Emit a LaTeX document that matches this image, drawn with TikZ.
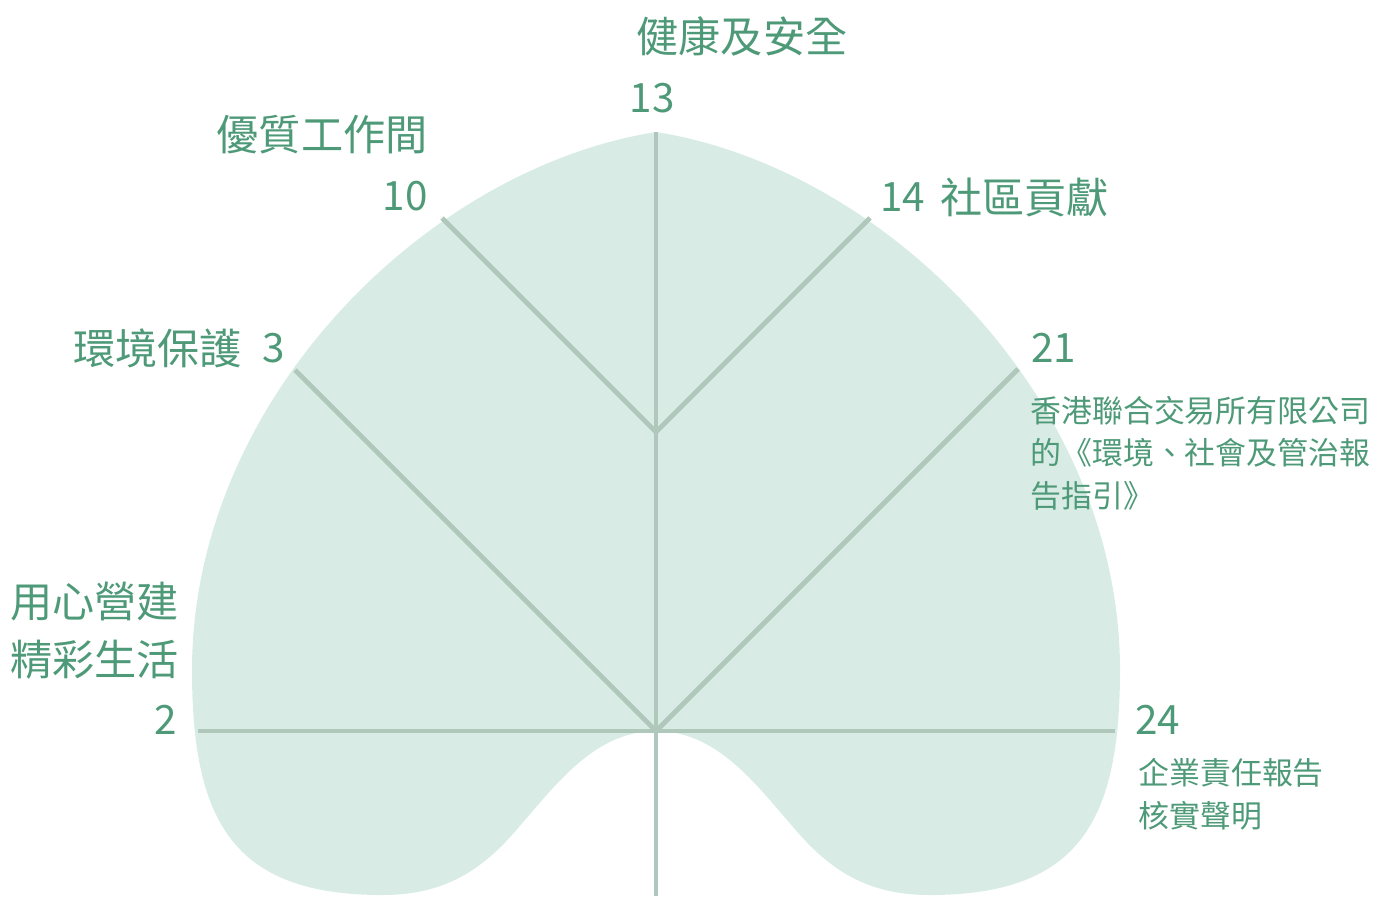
\documentclass[tikz,border=0pt]{standalone}
\usepackage{fontspec}
\setmainfont{Noto Sans CJK TC}
\usetikzlibrary{positioning}

\definecolor{leafgreen}{HTML}{D8ECE5}
\definecolor{veingray}{HTML}{B0C8BC}
\definecolor{labelgreen}{HTML}{4E9A78}

\tikzset{
  vein/.style={draw=veingray, line width=2.8pt},
  big label/.style={text=labelgreen, inner sep=0pt, align=left, font=\fontsize{24}{33}\selectfont},
  small label/.style={text=labelgreen, inner sep=0pt, align=left, font=\fontsize{17.6}{24.3}\selectfont},
  num label/.style={text=labelgreen, inner sep=0pt, font=\fontsize{23}{28}\selectfont}
}

\begin{document}
\begin{tikzpicture}[x=0.02cm, y=-0.02cm]
    \useasboundingbox (0,0) rectangle (1392,896);
    % leaf
    \fill[leafgreen] (656,132) .. controls (885,168) and (1120,400) .. (1120,670)
      .. controls (1120,820) and (1080,895) .. (930,895)
      .. controls (880,895) and (840,880) .. (800,835)
      .. controls (760,790) and (720,731) .. (656,731)
      .. controls (592,731) and (552,790) .. (512,835)
      .. controls (472,880) and (432,895) .. (382,895)
      .. controls (232,895) and (192,820) .. (192,670)
      .. controls (192,400) and (427,168) .. (656,132) -- cycle;
    % vein ends
    \coordinate (apex) at (656,132);
    \coordinate (stem) at (656,896);
    \coordinate (base) at (656,731);
    \coordinate (fork) at (656,432);
    \coordinate (side-l) at (198,731);
    \coordinate (side-r) at (1115,731);
    \coordinate (low-l) at (295,370);
    \coordinate (low-r) at (1018,369);
    \coordinate (up-l) at (442,218);
    \coordinate (up-r) at (870,218);
    \foreach \a/\b in {apex/stem, side-l/side-r, base/low-l, base/low-r, fork/up-l, fork/up-r}
      \draw[vein] (\a) -- (\b);
    % labels
    \node[big label] (health) at (742,36) {健康及安全};
    \node[num label] (n-health) at (652,98) {13};
    \node[big label, anchor=east] (work) at (428,135) {優質工作間};
    \node[num label, anchor=east] (n-work) at (428,196) {10};
    \node[big label, anchor=west] (env) at (73,348) {環境保護};
    \node[num label, anchor=west] (n-env) at (262,348) {3};
    \node[num label, anchor=west] (n-comm) at (880,197) {14};
    \node[big label, anchor=west] (comm) at (940,197) {社區貢獻};
    \node[num label, anchor=west] (n-hkex) at (1031,348) {21};
    \node[small label, anchor=west] (hkex) at (1030,453) {香港聯合交易所有限公司\\的《環境、社會及管治報\\告指引》};
    \node[big label, anchor=west] (life) at (10,631) {用心營建\\精彩生活};
    \node[num label, anchor=east] (n-life) at (177,720) {2};
    \node[num label, anchor=west] (n-cr) at (1135,720) {24};
    \node[small label, anchor=west] (cr) at (1138,794) {企業責任報告\\核實聲明};
\end{tikzpicture}
\end{document}
